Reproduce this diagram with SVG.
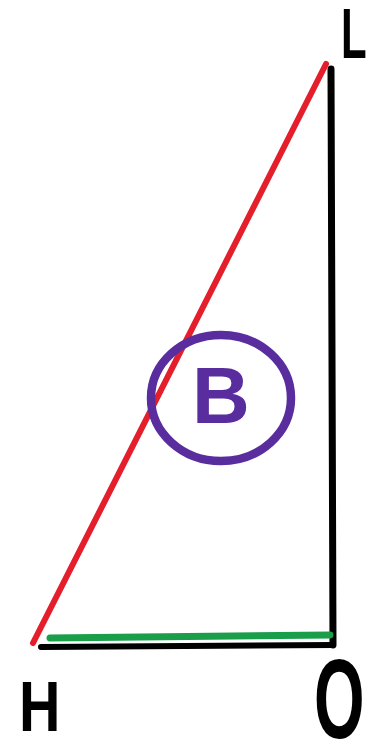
<svg xmlns="http://www.w3.org/2000/svg" width="368" height="744" viewBox="0 0 368 744">
<style>
.ln{fill:none;stroke-linecap:round;stroke-linejoin:round}
.lbl{font-family:"Liberation Sans",Arial,sans-serif;font-weight:bold;fill:#000}
</style>
<rect width="368" height="744" fill="#fff"/>
<g id="connectors">
<line class="ln" x1="331" y1="69" x2="333" y2="645" stroke="#000" stroke-width="7"/>
<line class="ln" x1="41" y1="647" x2="333" y2="645" stroke="#000" stroke-width="6"/>
<line class="ln" x1="50" y1="638" x2="330" y2="635" stroke="#1a9e4a" stroke-width="7"/>
<line class="ln" x1="326" y1="64" x2="33" y2="643" stroke="#e41e2b" stroke-width="6"/>
</g>
<g id="node-L">
<text class="lbl" transform="translate(341,58) scale(0.6,1)" font-size="70">L</text>
</g>
<g id="node-H">
<text class="lbl" transform="translate(19,731) scale(0.82,1)" font-size="70">H</text>
</g>
<g id="node-O">
<text class="lbl" transform="translate(314,738) scale(0.57,1)" font-size="114">O</text>
</g>
<g id="node-B">
<ellipse cx="221" cy="398" rx="70" ry="63" fill="none" stroke="#5a2d9e" stroke-width="8.5"/>
<text x="221" y="423" text-anchor="middle" font-family="Liberation Sans,Arial,sans-serif" font-weight="bold" font-size="80" fill="#5a2d9e">B</text>
</g>
</svg>
